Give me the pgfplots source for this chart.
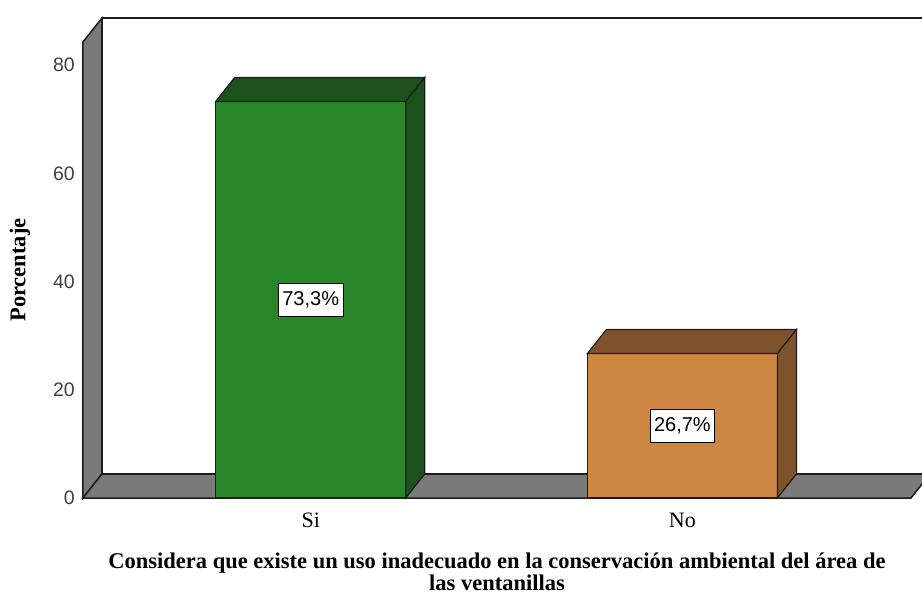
\documentclass[border=0pt]{standalone}
\usepackage{pgfplots}
\pgfplotsset{compat=1.18}
\usepackage{fontspec}
\setmainfont{Liberation Serif}
\newfontfamily\sansf{Liberation Sans}
\definecolor{wallgray}{RGB}{122,122,122}
\definecolor{edge}{RGB}{28,28,28}
\definecolor{greenF}{RGB}{42,134,42}
\definecolor{greenD}{RGB}{28,80,28}
\definecolor{orangeF}{RGB}{205,135,66}
\definecolor{orangeD}{RGB}{126,82,42}
\begin{document}
\begin{tikzpicture}
\clip[use as bounding box] (0pt,0pt) rectangle (922pt,595pt);
\begin{axis}[
  scale only axis,
  width=828pt, height=456pt,
  at={(83pt,97pt)}, anchor=south west,
  xmin=0.3874, xmax=2.615,
  ymin=0, ymax=84.29,
  clip=false,
  axis line style={draw=none},
  major tick length=0pt,
  xtick={1,2}, xticklabels={Si,No},
  ytick={0,20,40,60,80},
  /pgf/number format/assume math mode=true,
  yticklabel style={font=\sansf\fontsize{19.5}{19.5}\selectfont, text=black!75, inner sep=0pt, anchor=east, xshift=-8pt},
  xticklabel style={font=\fontsize{22}{22}\selectfont, inner sep=0pt, anchor=base, yshift=-30pt},
  ylabel={Porcentaje},
  ylabel style={font=\bfseries\fontsize{22.5}{22.5}\selectfont, at={(axis description cs:-0.0761,0.5)}, anchor=center},
  xlabel={Considera que existe un uso inadecuado en la conservación ambiental del área de\\las ventanillas},
  xlabel style={font=\bfseries\fontsize{22.5}{22}\selectfont, align=center, at={(axis description cs:0.5,0)}, anchor=center, yshift=-74pt},
]
% back wall
\addplot[draw=edge, line width=1.5pt, fill=white] coordinates {(0.4385,4.436) (2.6661,4.436) (2.6661,88.726) (0.4385,88.726)} -- cycle;
% left wall
\addplot[draw=edge, line width=1.5pt, fill=wallgray] coordinates {(0.3874,0) (0.3874,84.29) (0.4385,88.726) (0.4385,4.436)} -- cycle;
% floor
\addplot[draw=edge, line width=1.5pt, fill=wallgray] coordinates {(0.3874,0) (2.615,0) (2.6661,4.436) (0.4385,4.436)} -- cycle;
% Si bar
\addplot[draw=edge, line width=1.2pt, fill=greenF] coordinates {(0.7444,0) (1.2556,0) (1.2556,73.3) (0.7444,73.3)} -- cycle;
\addplot[draw=edge, line width=1.2pt, fill=greenD] coordinates {(0.7444,73.3) (1.2556,73.3) (1.3067,77.736) (0.7955,77.736)} -- cycle;
\addplot[draw=edge, line width=1.2pt, fill=greenD] coordinates {(1.2556,0) (1.3067,4.436) (1.3067,77.736) (1.2556,73.3)} -- cycle;
% No bar
\addplot[draw=edge, line width=1.2pt, fill=orangeF] coordinates {(1.7444,0) (2.2556,0) (2.2556,26.7) (1.7444,26.7)} -- cycle;
\addplot[draw=edge, line width=1.2pt, fill=orangeD] coordinates {(1.7444,26.7) (2.2556,26.7) (2.3067,31.136) (1.7955,31.136)} -- cycle;
\addplot[draw=edge, line width=1.2pt, fill=orangeD] coordinates {(2.2556,0) (2.3067,4.436) (2.3067,31.136) (2.2556,26.7)} -- cycle;
% value labels
\addplot[draw=none, mark=none, point meta=explicit symbolic,
  nodes near coords,
  every node near coord/.style={anchor=center, draw=black, line width=1pt, fill=white, font=\sansf\fontsize{20}{20}\selectfont, inner xsep=4pt, minimum height=33pt}]
  coordinates {(1,36.65) [73,3\%] (2,13.35) [26,7\%]};
\end{axis}
\end{tikzpicture}
\end{document}
